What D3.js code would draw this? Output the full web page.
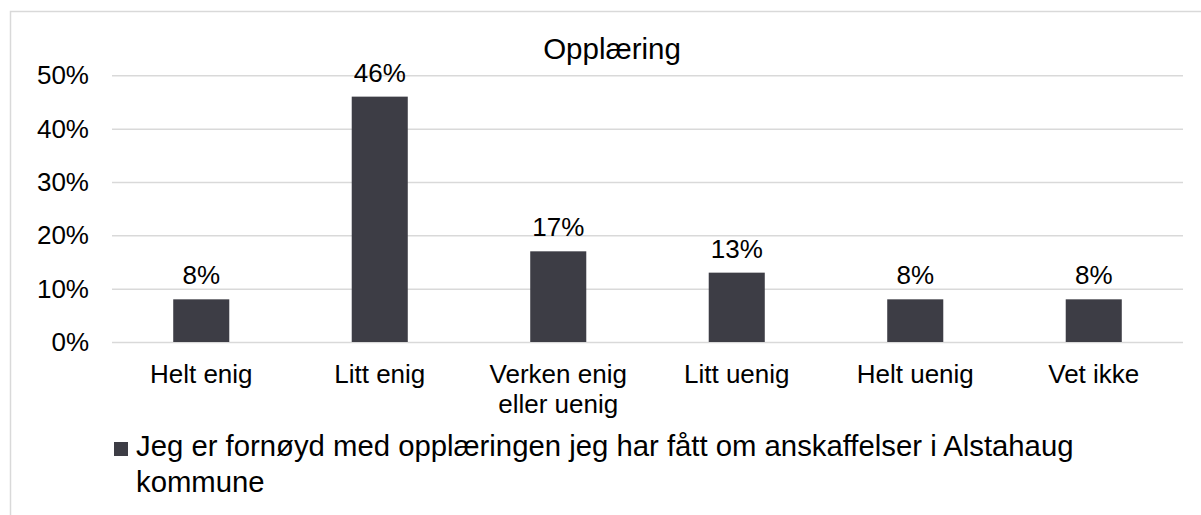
<!DOCTYPE html>
<html>
<head>
<meta charset="utf-8">
<script src="https://cdn.jsdelivr.net/npm/d3@7"></script>
<style>
  body { margin: 0; background: #fff; }
  text { font-family: "Liberation Sans", Arial, sans-serif; fill: #000; }
</style>
</head>
<body>
<div id="chart"></div>
<script>
// data
var categories = ["Helt enig", "Litt enig", "Verken enig eller uenig", "Litt uenig", "Helt uenig", "Vet ikke"];
var categoryLines = [["Helt enig"], ["Litt enig"], ["Verken enig", "eller uenig"], ["Litt uenig"], ["Helt uenig"], ["Vet ikke"]];
var values = [8, 46, 17, 13, 8, 8];
var yTicks = [0, 10, 20, 30, 40, 50];
var title = "Opplæring";
var legendLines = ["Jeg er fornøyd med opplæringen jeg har fått om anskaffelser i Alstahaug", "kommune"];

var W = 1201, H = 515;
var margin = {top: 75.3, left: 112, right: 18, bottom: 173};
var width = W - margin.left - margin.right,
    height = H - margin.top - margin.bottom;

var svg = d3.select("#chart").append("svg")
  .attr("width", W).attr("height", H);

// chart border
svg.append("rect")
  .attr("x", 10.5).attr("y", 11.5)
  .attr("width", 1220).attr("height", 600)
  .attr("fill", "none").attr("stroke", "#d9d9d9").attr("stroke-width", 1.5);

var g = svg.append("g")
  .attr("transform", "translate(" + margin.left + "," + margin.top + ")");

var x = d3.scaleBand()
  .domain(categories)
  .range([0, width])
  .paddingInner(0.686).paddingOuter(0.343);

var y = d3.scaleLinear()
  .domain([0, 50])
  .range([height, 0]);

// gridlines + y labels
var yAxis = g.append("g")
  .call(d3.axisLeft(y).tickValues(yTicks).tickSize(-width).tickFormat(function(d) { return d + "%"; }));
yAxis.select(".domain").remove();
yAxis.selectAll(".tick line").attr("stroke", "#d9d9d9").attr("stroke-width", 1.5);
yAxis.selectAll(".tick text")
  .attr("x", -23).attr("dy", "0.33em")
  .style("font-size", "26px").style("font-family", "Liberation Sans, Arial, sans-serif").attr("fill", "#000");

// bars
g.selectAll(".bar")
  .data(values)
  .enter().append("rect")
  .attr("class", "bar")
  .attr("x", function(d, i) { return x(categories[i]); })
  .attr("y", function(d) { return y(d); })
  .attr("width", x.bandwidth())
  .attr("height", function(d) { return height - y(d); })
  .attr("fill", "#3d3d45");

// value labels
g.selectAll(".val")
  .data(values)
  .enter().append("text")
  .attr("x", function(d, i) { return x(categories[i]) + x.bandwidth() / 2; })
  .attr("y", function(d) { return y(d) - 15; })
  .attr("text-anchor", "middle")
  .style("font-size", "26px")
  .text(function(d) { return d + "%"; });

// category labels
var cat = g.selectAll(".cat")
  .data(categoryLines)
  .enter().append("text")
  .attr("text-anchor", "middle")
  .attr("transform", function(d, i) { return "translate(" + (x(categories[i]) + x.bandwidth() / 2) + "," + (height + 41) + ")"; })
  .style("font-size", "26px");
cat.selectAll("tspan")
  .data(function(d) { return d; })
  .enter().append("tspan")
  .attr("x", 0)
  .attr("y", function(d, i) { return i * 30; })
  .text(function(d) { return d; });

// title
svg.append("text")
  .attr("x", 612).attr("y", 59)
  .attr("text-anchor", "middle")
  .style("font-size", "29.5px")
  .text(title);

// legend
svg.append("rect")
  .attr("x", 114).attr("y", 442)
  .attr("width", 14).attr("height", 14)
  .attr("fill", "#3d3d45");
var leg = svg.append("text").style("font-size", "29.3px");
leg.selectAll("tspan")
  .data(legendLines)
  .enter().append("tspan")
  .attr("x", 136)
  .attr("y", function(d, i) { return 456 + i * 36; })
  .text(function(d) { return d; });
</script>
</body>
</html>
